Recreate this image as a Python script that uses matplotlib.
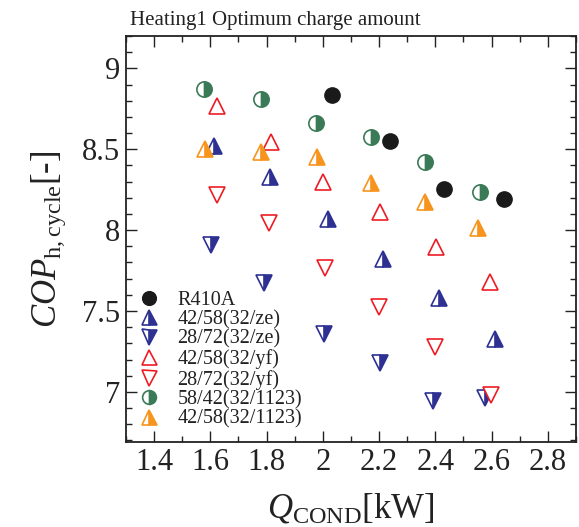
import matplotlib
matplotlib.use("Agg")
import matplotlib.pyplot as plt
from matplotlib.ticker import MultipleLocator

plt.rcParams['font.family'] = ['Liberation Serif', 'DejaVu Serif']
plt.rcParams['mathtext.fontset'] = 'custom'
plt.rcParams['mathtext.rm'] = 'Liberation Serif'
plt.rcParams['mathtext.it'] = 'Liberation Serif:italic'

# data
r410a_q = [2.033, 2.240, 2.431, 2.644]
r410a_cop = [8.838, 8.549, 8.257, 8.19]

ze4258_q = [1.614, 1.812, 2.017, 2.213, 2.412, 2.612]
ze4258_cop = [8.52, 8.329, 8.068, 7.821, 7.578, 7.325]

ze2872_q = [1.602, 1.789, 2.003, 2.204, 2.391, 2.576]
ze2872_cop = [7.907, 7.671, 7.358, 7.177, 6.944, 6.961]

yf4258_q = [1.622, 1.816, 2.001, 2.202, 2.401, 2.594]
yf4258_cop = [8.765, 8.545, 8.30, 8.109, 7.897, 7.681]

yf2872_q = [1.622, 1.810, 2.008, 2.199, 2.398, 2.597]
yf2872_cop = [8.216, 8.041, 7.767, 7.523, 7.276, 6.981]

b5842_q = [1.579, 1.780, 1.977, 2.172, 2.363, 2.558]
b5842_cop = [8.875, 8.809, 8.662, 8.576, 8.418, 8.236]

b4258_q = [1.582, 1.780, 1.980, 2.170, 2.364, 2.552]
b4258_cop = [8.504, 8.483, 8.452, 8.292, 8.171, 8.014]

navy = '#2e3192'
red = '#ed1c24'
green = '#3b7a57'
orange = '#f7941d'
black = '#1a1a1a'

fig = plt.figure(figsize=(5.79, 5.27), dpi=100)
ax = fig.add_axes([0.2176, 0.1613, 0.7772, 0.7704])

ms_c = 11
ms_t = 12
mew = 1.2

ax.plot(r410a_q, r410a_cop, 'o', ms=ms_c, color=black, mec=black, label='R410A')
ax.plot(ze4258_q, ze4258_cop, '^', ms=ms_t, color=navy, mec=navy, mew=mew,
        fillstyle='right', markerfacecoloralt='white', label='42/58(32/ze)')
ax.plot(ze2872_q, ze2872_cop, 'v', ms=ms_t, color=navy, mec=navy, mew=mew,
        fillstyle='right', markerfacecoloralt='white', label='28/72(32/ze)')
ax.plot(yf4258_q, yf4258_cop, '^', ms=ms_t, mfc='white', mec=red, mew=mew,
        label='42/58(32/yf)')
ax.plot(yf2872_q, yf2872_cop, 'v', ms=ms_t, mfc='white', mec=red, mew=mew,
        label='28/72(32/yf)')
ax.plot(b5842_q, b5842_cop, 'o', ms=ms_c, color=green, mec=green, mew=mew,
        fillstyle='right', markerfacecoloralt='white', label='58/42(32/1123)')
ax.plot(b4258_q, b4258_cop, '^', ms=ms_t, color=orange, mec=orange, mew=mew,
        fillstyle='right', markerfacecoloralt='white', label='42/58(32/1123)')

ax.set_xlim(1.3, 2.9)
ax.set_ylim(6.69, 9.2)
ax.xaxis.set_minor_locator(MultipleLocator(0.1))
ax.yaxis.set_minor_locator(MultipleLocator(0.1))
ax.set_xticks([1.4, 1.6, 1.8, 2.0, 2.2, 2.4, 2.6, 2.8])
ax.set_xticklabels(['1.4', '1.6', '1.8', '2', '2.2', '2.4', '2.6', '2.8'])
ax.set_yticks([7, 7.5, 8, 8.5, 9])
ax.set_yticklabels(['7', '7.5', '8', '8.5', '9'])

ax.tick_params(which='both', direction='in', top=True, right=True,
               width=1.0, colors='#222222', labelsize=22)
ax.tick_params(which='major', length=8, pad=4)
ax.tick_params(which='minor', length=4)
for s in ax.spines.values():
    s.set_linewidth(1.3)
    s.set_color('#222222')

ax.set_xlabel(r'$Q_{\mathrm{COND}}$[kW]', fontsize=25, color='#222222', labelpad=11)
ax.set_ylabel(r'$COP_{\mathrm{h,cycle}}$[-]', fontsize=25, color='#222222', labelpad=10)

fig.text(0.225, 0.962, 'Heating1 Optimum charge amount', fontsize=15,
         color='#222222', ha='left', va='center')

leg = ax.legend(loc='lower left', bbox_to_anchor=(0.0, 0.0), frameon=False,
                fontsize=14.5, labelspacing=0.02, handlelength=1.0,
                handletextpad=0.9, borderaxespad=0.25, numpoints=1,
                markerscale=0.9)
for t in leg.get_texts():
    t.set_color('#222222')

fig.savefig('out.png', dpi=100)
